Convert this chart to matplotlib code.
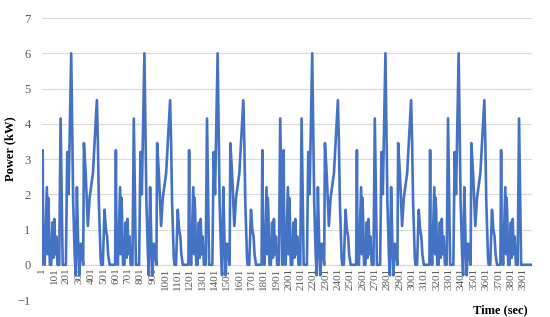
import matplotlib
matplotlib.use("Agg")
import matplotlib.pyplot as plt

# ---- data ----
# One repeating load cycle: sample offset within cycle and power (kW)
cycle_offsets = [0, 6, 11, 15, 22, 40, 46, 50, 55, 64, 75, 85, 92, 100, 108, 116, 126, 140,
                 151, 160, 168, 194, 205, 212, 216, 237, 253, 265, 273, 283, 294, 302, 313,
                 324, 334, 340, 354, 372, 386, 413, 445, 453, 461, 475, 480, 493, 507, 518,
                 528, 536, 548]
cycle_power = [0, 3.25, 0.2, 0.5, 0, 2.2, 0.3, 1.9, 1.5, 0, 0, 1.2, 0.2, 1.3, 0.3, 0.8, 0, 0,
               4.15, 2.0, 0, 0, 3.2, 2.4, 2.0, 6.0, 1.8, 0.3, -0.3, 2.2, 0.5, -0.3, 0.6,
               0.3, 0, 3.45, 2.6, 1.1, 1.9, 2.6, 4.67, 3.5, 1.77, 0.2, 0, 0, 1.56, 1.0,
               0.8, 0.3, 0]
part_len = 21  # template points forming the opening part (up to the 4.15 kW spike)
full_cycle_starts = [3, 596, 1189, 1955, 2548, 3141]
part_starts = [1782, 3716]
n_samples = 3970
tick_labels = [str(v) for v in range(1, 4000, 100)]
y_ticks = [-1, 0, 1, 2, 3, 4, 5, 6, 7]

# ---- assemble the series from the read segments ----
segs = []
for s in full_cycle_starts:
    segs.append((s, cycle_offsets, cycle_power))
for s in part_starts:
    segs.append((s, cycle_offsets[:part_len], cycle_power[:part_len]))
segs.sort(key=lambda t: t[0])
xs, ys = [1], [0]
for s, offs, pw in segs:
    xs += [s + o for o in offs]
    ys += list(pw)
xs.append(n_samples)
ys.append(0)

# ---- figure ----
fig = plt.figure(figsize=(5.5, 3.17), dpi=100)
ax = fig.add_axes([0.0758, 0.0536, 0.891, 0.8896])
serif = ["Liberation Serif", "DejaVu Serif"]

ax.plot(xs, ys, color="#4472C4", lw=1.9, solid_joinstyle="round", zorder=3)

ax.set_xlim(1, n_samples)
ax.set_ylim(-1, 7)
ax.set_yticks(y_ticks)
ax.yaxis.grid(True, color="#D9D9D9", lw=0.8)
ax.set_axisbelow(True)
for sp in ["top", "right", "left"]:
    ax.spines[sp].set_visible(False)
ax.spines["bottom"].set_position(("data", 0))
ax.spines["bottom"].set_color("#D9D9D9")
ax.spines["bottom"].set_linewidth(0.8)
ax.spines["bottom"].set_zorder(1)

tick_pos = [int(t) for t in tick_labels]
ax.set_xticks(tick_pos)
ax.set_xticklabels(tick_labels, rotation=90, fontsize=8, family=serif, color="#595959")
ax.tick_params(axis="x", length=0, pad=2)
ax.tick_params(axis="y", length=0, pad=8)
for lab in ax.get_yticklabels():
    lab.set_family(serif)
    lab.set_fontsize(9)
    lab.set_color("#595959")

fig.text(0.018, 0.53, "Power (kW)", rotation=90, ha="center", va="center",
         fontsize=9, fontweight="bold", family=serif)
fig.text(0.91, 0.022, "Time (sec)", ha="center", va="center",
         fontsize=9, fontweight="bold", family=serif)

fig.savefig("out.png", dpi=100)
